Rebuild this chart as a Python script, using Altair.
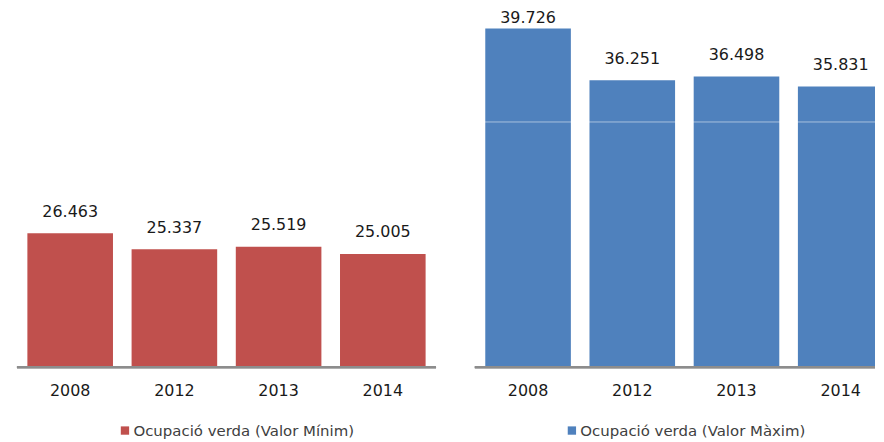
import altair as alt
import pandas as pd

years = ["2008", "2012", "2013", "2014"]
min_values = [26463, 25337, 25519, 25005]
max_values = [39726, 36251, 36498, 35831]
series_names = ["Ocupació verda (Valor Mínim)", "Ocupació verda (Valor Màxim)"]
colors = ["#C0504D", "#4F81BD"]

FONT = "DejaVu Sans"
H = 359
BAND_W = 421
BASE = 17050


def fmt(v):
    return f"{v:,}".replace(",", ".")


def panel(values, name, color, px_per_unit, legend_x, grid_vals, view_w):
    df = pd.DataFrame({
        "year": years,
        "value": values,
        "label": [fmt(v) for v in values],
        "series": [name] * len(values),
    })
    bar_max = BASE + H / px_per_unit
    txt_off = 21.6
    txt_top = 8.7
    txt_max = BASE + (H - txt_off - txt_top) / px_per_unit
    xscale = alt.Scale(paddingInner=0.1786, paddingOuter=0.1, range=[0, BAND_W])
    x = alt.X("year:N", sort=years, scale=xscale, axis=None)
    if grid_vals:
        yaxis = alt.Axis(values=grid_vals, grid=True, gridColor="white", gridOpacity=0.5,
                         gridWidth=1, labels=False, ticks=False, domain=False, title=None,
                         zindex=1)
    else:
        yaxis = None
    bars = alt.Chart(df).mark_bar(clip=True).encode(
        x=x,
        y=alt.Y("value:Q", scale=alt.Scale(domain=[BASE, bar_max], zero=False, nice=False),
                axis=yaxis, stack=None),
        y2=alt.value(H),
        color=alt.Color(
            "series:N",
            scale=alt.Scale(domain=[name], range=[color]),
            legend=alt.Legend(title=None, orient="none", legendX=legend_x, legendY=416,
                              symbolType="square", symbolSize=70, symbolStrokeWidth=0,
                              labelFont=FONT, labelFontSize=15, labelColor="#404040",
                              padding=0, labelOffset=1, symbolOffset=0, labelLimit=500),
        ),
    )
    baseline = alt.Chart(df).mark_rule(color="#8c8c8c", strokeWidth=2).encode(
        y=alt.value(H + 1), x=alt.value(0), x2=alt.value(view_w)
    )
    year_labels = alt.Chart(df).mark_text(baseline="middle", font=FONT, fontSize=16,
                                          color="#1a1a1a").encode(
        x=alt.X("year:N", sort=years, scale=xscale, axis=None),
        y=alt.value(H + 25),
        text="year:N",
    )
    text = alt.Chart(df).mark_text(baseline="middle", font=FONT, fontSize=16,
                                   color="#1a1a1a").encode(
        x=alt.X("year:N", sort=years, scale=xscale, axis=None),
        y=alt.Y("value:Q",
                scale=alt.Scale(domain=[BASE, txt_max], range=[H - txt_off, txt_top],
                                zero=False, nice=False, clamp=True),
                axis=None),
        text="label:N",
    )
    return alt.layer(bars, baseline, year_labels, text).resolve_scale(
        y="independent").properties(width=view_w, height=H)


left = panel(min_values, series_names[0], colors[0], 0.0142, 101, None, 421)
right = panel(max_values, series_names[1], colors[1], 0.01497, 90, [33480], 402)

chart = alt.hconcat(left, right, spacing=37).resolve_scale(
    color="independent").resolve_legend(color="independent").properties(
    padding={"left": 8, "top": 0, "right": 0, "bottom": 0}, background="white"
).configure_view(strokeWidth=0)

chart.save("out.html", embed_options={"renderer": "svg", "actions": False})
